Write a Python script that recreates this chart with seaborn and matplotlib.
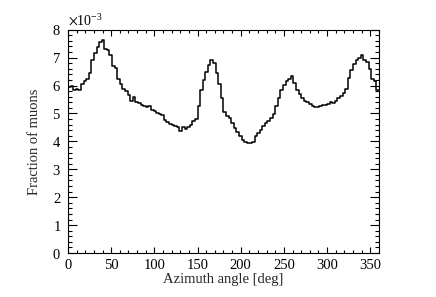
import numpy as np
import pandas as pd
import matplotlib
matplotlib.use("Agg")
import matplotlib.pyplot as plt
import seaborn as sns
from matplotlib.ticker import MultipleLocator

# -----------------------------
# DATA (fraction of muons, in units of 1e-3, 3 deg bins)
# -----------------------------
bin_width = 3
fraction_e3 = [
    5.95, 5.97, 5.84, 5.88, 5.85, 6.07, 6.17, 6.22, 6.45, 6.92,
    7.15, 7.38, 7.56, 7.63, 7.30, 7.26, 7.10, 6.70, 6.62, 6.25,
    6.05, 5.88, 5.80, 5.65, 5.45, 5.58, 5.42, 5.38, 5.32, 5.27,
    5.24, 5.28, 5.12, 5.10, 5.02, 4.97, 4.94, 4.78, 4.68, 4.64,
    4.60, 4.56, 4.52, 4.38, 4.50, 4.45, 4.52, 4.60, 4.72, 4.80,
    5.25, 5.85, 6.20, 6.50, 6.75, 6.93, 6.80, 6.45, 6.05, 5.55,
    5.05, 4.92, 4.82, 4.65, 4.48, 4.32, 4.18, 4.06, 3.98, 3.94,
    3.93, 3.98, 4.20, 4.30, 4.42, 4.55, 4.66, 4.72, 4.85, 4.98,
    5.25, 5.55, 5.85, 6.02, 6.18, 6.25, 6.33, 6.10, 5.85, 5.68,
    5.55, 5.45, 5.40, 5.34, 5.28, 5.24, 5.22, 5.26, 5.30, 5.32,
    5.34, 5.40, 5.38, 5.46, 5.55, 5.62, 5.75, 5.88, 6.26, 6.55,
    6.78, 6.90, 6.98, 7.08, 6.90, 6.85, 6.58, 6.22, 6.18, 5.85,
]

edges = np.arange(0, bin_width * len(fraction_e3) + 1, bin_width)
df = pd.DataFrame({
    "azimuth": edges[:-1] + bin_width / 2,
    "fraction": np.array(fraction_e3) * 1e-3,
})

# -----------------------------
# STYLE
# -----------------------------
sns.set_style("ticks")
plt.rcParams["font.family"] = ["Liberation Serif", "DejaVu Serif"]
plt.rcParams["mathtext.fontset"] = "stix"
plt.rcParams["font.size"] = 10

fig = plt.figure(figsize=(4.36, 2.97), dpi=100)
ax = fig.add_axes([0.156, 0.148, 0.713, 0.752])

sns.histplot(data=df, x="azimuth", weights="fraction", bins=list(edges),
             element="step", fill=False, color="black", linewidth=1.1, ax=ax)

ax.set_xlim(0, 360)
ax.set_ylim(0, 8e-3)
ax.set_xlabel("Azimuth angle [deg]", fontsize=10.5, labelpad=1)
ax.set_ylabel("Fraction of muons", fontsize=10.5, labelpad=8)

ax.xaxis.set_major_locator(MultipleLocator(50))
ax.xaxis.set_minor_locator(MultipleLocator(10))
ax.yaxis.set_major_locator(MultipleLocator(1e-3))
ax.yaxis.set_minor_locator(MultipleLocator(0.2e-3))
ax.ticklabel_format(axis="y", style="sci", scilimits=(-3, -3), useMathText=True)
ax.yaxis.get_offset_text().set_fontsize(10)

ax.tick_params(which="both", direction="in", top=True, right=True,
               labelsize=10.5, width=0.8, colors="black")
ax.tick_params(axis="y", which="major", length=6.5, pad=5)
ax.tick_params(axis="y", which="minor", length=3.2)
ax.tick_params(axis="x", which="major", length=4.5, pad=4)
ax.tick_params(axis="x", which="minor", length=2.3)
for s in ax.spines.values():
    s.set_linewidth(0.8)
    s.set_color("black")

fig.savefig("out.png", dpi=100, facecolor="white")
